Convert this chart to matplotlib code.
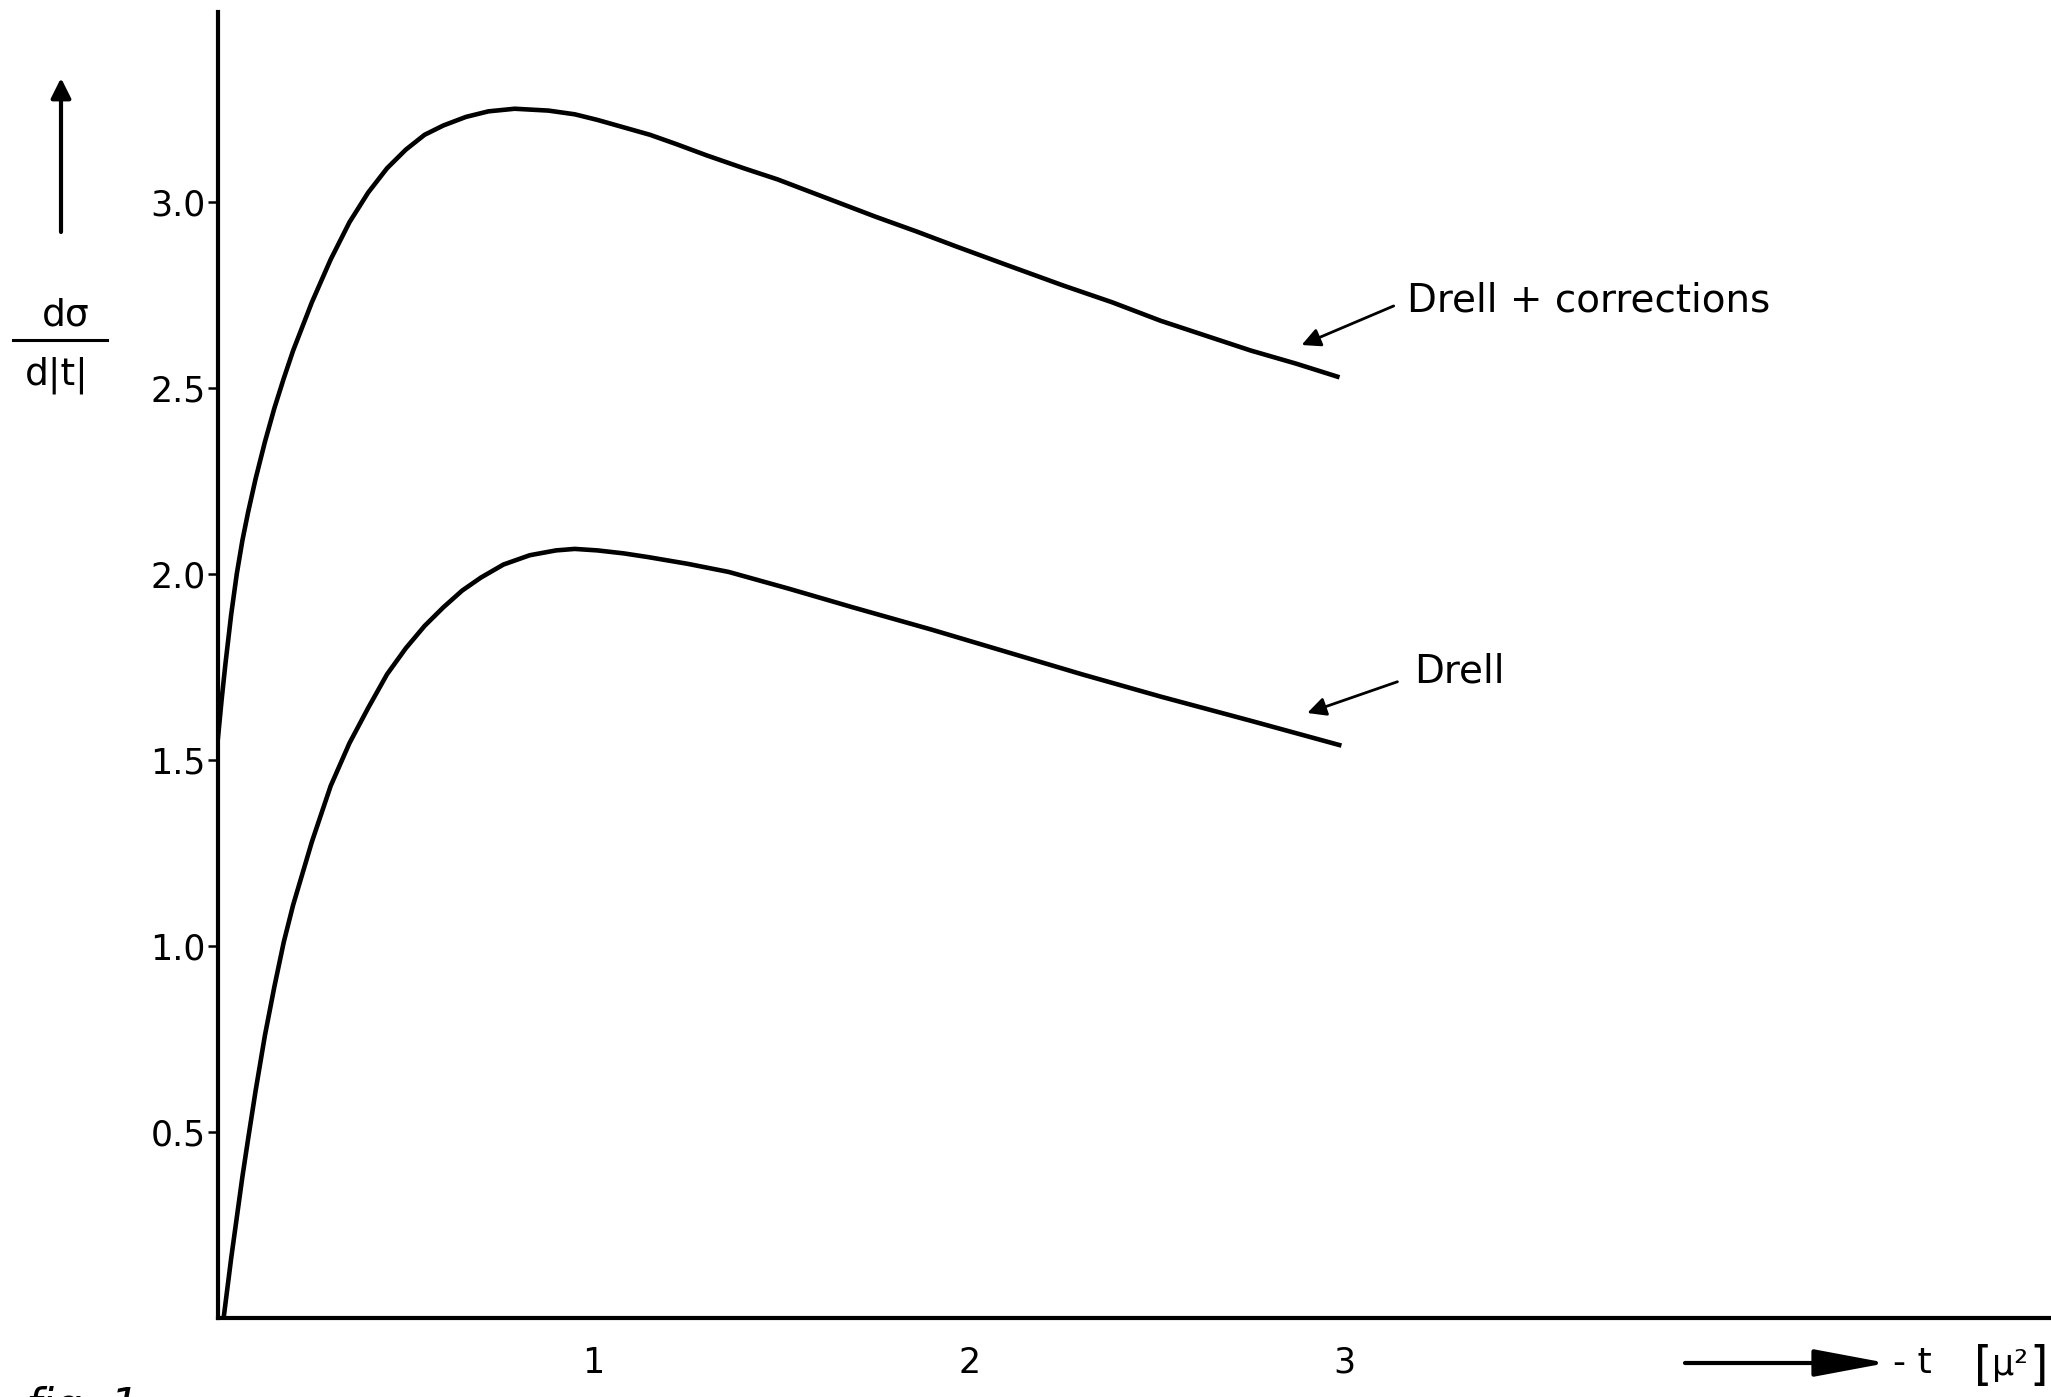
import numpy as np
import matplotlib.pyplot as plt
from matplotlib.lines import Line2D

# values
t_corr = [0.0, 0.01, 0.02, 0.035, 0.05, 0.065, 0.08, 0.10, 0.125, 0.15, 0.175, 0.20,
          0.25, 0.30, 0.35, 0.40, 0.45, 0.50, 0.55, 0.60, 0.66, 0.72, 0.79, 0.88, 0.95,
          1.01, 1.08, 1.15, 1.22, 1.30, 1.40, 1.49, 1.62, 1.75, 1.86, 1.965, 2.10, 2.25,
          2.38, 2.51, 2.63, 2.75, 2.87, 2.98]
sig_corr = [1.56, 1.665, 1.76, 1.89, 2.0, 2.09, 2.165, 2.255, 2.355, 2.445, 2.525, 2.60,
            2.73, 2.845, 2.945, 3.025, 3.09, 3.14, 3.18, 3.205, 3.228, 3.243, 3.25, 3.245,
            3.235, 3.22, 3.20, 3.18, 3.155, 3.125, 3.09, 3.06, 3.01, 2.96, 2.92, 2.88,
            2.83, 2.775, 2.73, 2.68, 2.64, 2.60, 2.565, 2.53]

t_drell = [0.015, 0.025, 0.035, 0.05, 0.065, 0.08, 0.10, 0.125, 0.15, 0.175, 0.20, 0.25,
           0.30, 0.35, 0.40, 0.45, 0.50, 0.55, 0.60, 0.65, 0.70, 0.76, 0.83, 0.90, 0.95,
           1.01, 1.08, 1.145, 1.25, 1.36, 1.52, 1.69, 1.90, 2.10, 2.30, 2.51, 2.75, 2.985]
sig_drell = [0.0, 0.08, 0.16, 0.27, 0.38, 0.48, 0.61, 0.76, 0.89, 1.01, 1.11, 1.28,
             1.43, 1.545, 1.64, 1.73, 1.80, 1.86, 1.91, 1.955, 1.99, 2.025, 2.05, 2.063,
             2.067, 2.063, 2.055, 2.045, 2.027, 2.005, 1.96, 1.91, 1.85, 1.79, 1.73, 1.67,
             1.605, 1.54]

xticks = [1, 2, 3]
yticks = [0.5, 1.0, 1.5, 2.0, 2.5, 3.0]
ytick_labels = ["0.5", "1.0", "1.5", "2.0", "2.5", "3.0"]

W, H = 2051, 1397
fig = plt.figure(figsize=(W / 100, H / 100), dpi=100)
ax = fig.add_axes([218 / W, 79 / H, (W - 218) / W, (1318 - 12) / H])

ax.plot(t_corr, sig_corr, color="black", lw=3.3, solid_joinstyle="round")
ax.plot(t_drell, sig_drell, color="black", lw=3.3, solid_joinstyle="round")

ax.set_xlim(0, 4.88)
ax.set_ylim(0, 3.51)
for s in ["top", "right"]:
    ax.spines[s].set_visible(False)
for s in ["left", "bottom"]:
    ax.spines[s].set_linewidth(3)

ax.set_xticks(xticks)
ax.set_xticklabels([str(v) for v in xticks])
ax.set_yticks(yticks)
ax.set_yticklabels(ytick_labels)
ax.tick_params(axis="y", direction="out", length=7, width=1.8, pad=2, labelsize=25)
ax.tick_params(axis="x", length=0, pad=20, labelsize=25)

# curve labels with arrows
arrow = dict(arrowstyle="-|>", color="black", lw=2, mutation_scale=28,
             shrinkA=0, shrinkB=0)
ax.annotate("", xy=(2.885, 2.615), xytext=(3.13, 2.72), arrowprops=arrow)
ax.text(3.166, 2.734, "Drell + corrections", fontsize=28, va="center", ha="left")
ax.annotate("", xy=(2.90, 1.626), xytext=(3.14, 1.71), arrowprops=arrow)
ax.text(3.185, 1.737, "Drell", fontsize=28, va="center", ha="left")

# y axis label: arrow and fraction
ax.annotate("", xy=(61 / W, 1 - 78 / H), xytext=(61 / W, 1 - 232 / H),
            xycoords="figure fraction", textcoords="figure fraction",
            arrowprops=dict(arrowstyle="-|>", color="black", lw=3, mutation_scale=30,
                            shrinkA=0, shrinkB=0))
fig.text(66 / W, 1 - 315 / H, "dσ", fontsize=27, ha="center", va="center")
fig.add_artist(Line2D([13 / W, 107 / W], [1 - 340 / H, 1 - 340 / H], color="black", lw=2.2))
fig.text(57 / W, 1 - 375 / H, "d|t|", fontsize=27, ha="center", va="center")

# x axis label: arrow and -t [mu^2]
ax.annotate("", xy=(1887 / W, 1 - 1363 / H), xytext=(1685 / W, 1 - 1363 / H),
            xycoords="figure fraction", textcoords="figure fraction",
            arrowprops=dict(arrowstyle="-|>,head_length=1.6,head_width=0.3", color="black",
                            lw=3, mutation_scale=28, shrinkA=0, shrinkB=0))
fig.text(1893 / W, 1 - 1363 / H, "- t", fontsize=26, ha="left", va="center")
fig.text(1974 / W, 1 - 1367 / H, "[", fontsize=34, ha="left", va="center")
fig.text(1992 / W, 1 - 1365 / H, "μ²", fontsize=25, ha="left", va="center")
fig.text(2029 / W, 1 - 1367 / H, "]", fontsize=34, ha="left", va="center")

fig.text(26 / W, 1 - 1386 / H, "fig. 1", fontsize=32, style="italic", ha="left", va="top")

fig.savefig("out.png", dpi=100)
